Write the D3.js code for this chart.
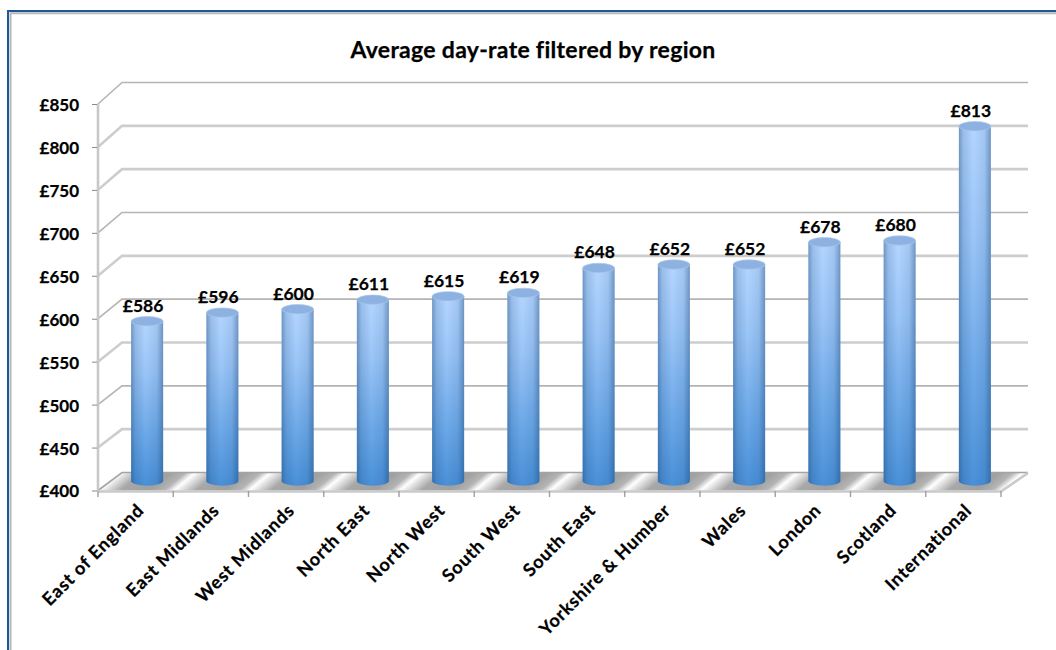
<!DOCTYPE html>
<html><head><meta charset="utf-8"><style>html,body{margin:0;background:#fff}svg{display:block}text{font-family:Lato,"Open Sans",sans-serif;font-weight:700;fill:#000;stroke:#000;stroke-width:.25px}</style>
<script src="https://cdn.jsdelivr.net/npm/d3@7"></script></head><body><div id="c"></div>
<script>
const title="Average day-rate filtered by region";
const categories=["East of England","East Midlands","West Midlands","North East","North West","South West","South East","Yorkshire & Humber","Wales","London","Scotland","International"];
const values=[586,596,600,611,615,619,648,652,652,678,680,813];
const yTicks=[400,450,500,550,600,650,700,750,800,850];
const gridDark=[0,0,1,0,1,0,1,0,0,1];
const W=1056,H=650;
const svg=d3.select("#c").append("svg").attr("width",W).attr("height",H);
const defs=svg.append("defs");
const yFront=d3.scaleLinear().domain([400,850]).range([490.5,104]);
const yBack=d3.scaleLinear().domain([400,850]).range([472.5,82.5]);
const yBar=d3.scaleLinear().domain([400,850]).range([481,94.5]);
const xFront=d3.scaleBand().domain(categories).range([98,1001]);
// frame
svg.append("path").attr("d","M8,650V11H1056").attr("fill","none").attr("stroke","#1c5a96").attr("stroke-width",2);
svg.append("path").attr("d","M10.5,650V13.2H1056").attr("fill","none").attr("stroke","#b8b8b8").attr("stroke-width",2);
// gradients
const sh=defs.append("linearGradient").attr("id","shade");
[[0,.42],[.14,.16],[.45,0],[.8,.1],[1,.42]].forEach(([o,a])=>sh.append("stop").attr("offset",o).attr("stop-color","#123f70").attr("stop-opacity",a));
const vg=defs.append("linearGradient").attr("id","vert").attr("x1",0).attr("x2",0).attr("y1",0).attr("y2",1);
[[0,"#b4d6ff"],[.3,"#9cc6f8"],[.7,"#6ba8e8"],[1,"#4a90d8"]].forEach(([o,c])=>vg.append("stop").attr("offset",o).attr("stop-color",c));
const fg=defs.append("linearGradient").attr("id","floor").attr("gradientUnits","userSpaceOnUse").attr("x1",0).attr("x2",xFront.step()).attr("y1",0).attr("y2",0).attr("spreadMethod","repeat").attr("gradientTransform","matrix(1 0 -1.2 1 0 0)");
[[0,"#b4b4b4"],[.133,"#ffffff"],[.22,"#e4e4e4"],[.42,"#a8a8a8"],[.8,"#a0a0a0"],[1,"#b4b4b4"]].forEach(([o,c])=>fg.append("stop").attr("offset",o).attr("stop-color",c));
// side wall + back grid
svg.append("g").selectAll("path").data(yTicks.slice(1)).join("path")
 .attr("d",d=>`M98,${yFront(d)}L122,${yBack(d)}H1028`).attr("fill","none")
 .attr("stroke",(d,i)=>gridDark[i+1]?"#b4b4b4":"#cdcdcd").attr("stroke-width",(d,i)=>gridDark[i+1]?1.6:2.6);
// floor
svg.append("path").attr("d","M98,490.5L122,472.5H1028L1001,490.5Z").attr("fill","url(#floor)");
svg.append("path").attr("d","M98,490.5L122,472.5H1028").attr("fill","none").attr("stroke","#a4a4a4").attr("stroke-width",1.6);
svg.append("path").attr("d","M98,491.5H1001L1028,473").attr("fill","none").attr("stroke","#cacaca").attr("stroke-width",2.6);
// axes
svg.append("path").attr("d",`M98,${yFront(850)}V491`).attr("stroke","#c8c8c8").attr("stroke-width",2.6).attr("fill","none");
const yAxis=d3.axisLeft(yFront).tickValues(yTicks).tickFormat(d=>"£"+d).tickSize(5).tickPadding(13);
const ga=svg.append("g").attr("transform","translate(97,1)").call(yAxis);
ga.select(".domain").remove();ga.selectAll("line").attr("stroke","#8a8a8a").attr("transform","translate(0,-1)");
ga.selectAll("text").style("font-size","17px");
const tickX=categories.map(c=>xFront(c)).concat([1001]);
svg.append("g").selectAll("line").data(tickX).join("line").attr("x1",d=>d).attr("x2",d=>d).attr("y1",491).attr("y2",497).attr("stroke","#a0a0a0").attr("stroke-width",1.4);
// bars
const cx=d=>xFront(d)+xFront.bandwidth()/2+11.5;
const bw=32,ry=4.7;
const rows=categories.map((c,i)=>({c,v:values[i]}));
const bars=svg.append("g").selectAll("g").data(rows).join("g");
const body=d=>{const x=cx(d.c),t=yBar(d.v),b=yBar(400);return `M${x-bw/2},${t}V${b}A${bw/2},${ry} 0 0 0 ${x+bw/2},${b}V${t}Z`;};
bars.append("path").attr("d",body).attr("fill","url(#vert)");
bars.append("path").attr("d",body).attr("fill","url(#shade)");
bars.append("ellipse").attr("cx",d=>cx(d.c)).attr("cy",d=>yBar(d.v)).attr("rx",bw/2).attr("ry",ry).attr("fill","#8db2e2").attr("stroke","#a9c6ec").attr("stroke-width",.7);
bars.append("text").attr("x",d=>cx(d.c)-4).attr("y",d=>yBar(d.v)-9.5).attr("text-anchor","middle").style("font-size","17.5px").text(d=>"£"+d.v);
// category labels
svg.append("g").selectAll("text").data(categories).join("text")
 .attr("transform",d=>`translate(${xFront(d)+xFront.bandwidth()/2+5},507) rotate(-45)`)
 .attr("text-anchor","end").attr("dy",".35em").style("font-size","18px").style("letter-spacing",".8px").text(d=>d);
svg.append("text").attr("x",533).attr("y",58).attr("text-anchor","middle").style("font-size","23px").style("letter-spacing",".3px").text(title);
</script></body></html>
